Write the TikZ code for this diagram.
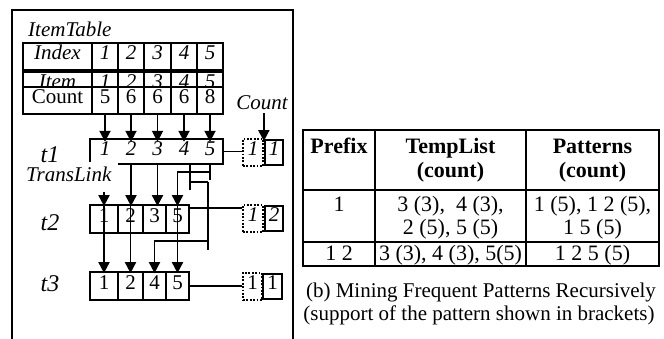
\documentclass[tikz,border=0pt]{standalone}
\usepackage{fontspec}
\setmainfont{Liberation Serif}
\usetikzlibrary{arrows.meta}
\newcommand\fsl{\fontsize{21}{23}\selectfont}
\newcommand\fst{\fontsize{24}{26}\selectfont}
\newcommand\fsr{\fontsize{22}{24}\selectfont}
\newcommand\fsc{\fontsize{21}{23}\selectfont}
\begin{document}
\begin{tikzpicture}[x=1pt,y=-1pt,
  cell/.style={draw, line width=1.7pt, inner sep=0pt, minimum height=27pt, text height=0.66em, text depth=0pt, font=\fsl},
  icell/.style={cell, font=\fsl\itshape},
  dotbox/.style={cell, dash pattern=on 1.8pt off 1.6pt},
  lbl/.style={inner sep=0pt, font=\fsl\itshape},
  arr/.style={line width=1.8pt, -{Triangle[width=11pt,length=11pt]}, shorten >=-2pt},
  ln/.style={line width=1.8pt},
  tbl/.style={inner sep=0pt, anchor=base, font=\fsr},
  tblh/.style={tbl, font=\fsr\bfseries},
  capt/.style={inner sep=0pt, anchor=base, font=\fsc}]
\useasboundingbox (0,0) rectangle (664,339);
% outer frame
\draw[line width=2pt] (12,339) -- (12,10) -- (293,10) -- (293,339);
\node[lbl, anchor=base west] (itab) at (28,37) {ItemTable};
% Index row
\node[icell, minimum width=69pt] (idx0) at (57.5,56.5) {Index};
\foreach \i/\x/\w in {1/105/26, 2/131/26, 3/157.5/27, 4/184/26, 5/210/26}
  \node[icell, minimum width=\w pt] (idx\i) at (\x,56.5) {\i};
% Item row (partly hidden)
\node[icell, minimum width=69pt] (itm0) at (57.5,85.5) {Item};
\foreach \i/\x/\w in {1/105/26, 2/131/26, 3/157.5/27, 4/184/26, 5/210/26}
  \node[icell, minimum width=\w pt] (itm\i) at (\x,85.5) {\i};
% Count row
\node[cell, fill=white, minimum width=69pt] (cnt0) at (57.5,100.5) {Count};
\foreach \i/\x/\w/\t in {1/105/26/5, 2/131/26/6, 3/157.5/27/6, 4/184/26/6, 5/210/26/8}
  \node[cell, fill=white, minimum width=\w pt] (cnt\i) at (\x,100.5) {\t};
\node[lbl, anchor=base] (cntl) at (262,110) {Count};
% t1
\node[lbl, font=\fst\itshape, anchor=base] (lt1) at (50,163) {t1};
\node[inner sep=0pt, minimum width=133pt, minimum height=25pt] (t1box) at (156.5,151.5) {};
\draw[ln] ([xshift=28pt]t1box.south west) -- (t1box.south east) -- (t1box.north east) -- (t1box.north west) -- ([yshift=2pt]t1box.south west);
\foreach \i/\x in {1/105, 2/131, 3/157.5, 4/184, 5/210}
  \node[lbl, text height=0.66em, text depth=0pt] (t1n\i) at (\x,152) {\i};
\node[dotbox, font=\fsl\itshape, minimum width=20pt] (d1) at (253,152.5) {1};
\node[icell, minimum width=18pt, minimum height=25pt] (s1) at (274,152.5) {1};
\node[lbl, anchor=base west] (tl) at (26,182) {TransLink};
% t2
\node[lbl, font=\fst\itshape, anchor=base] (lt2) at (50,231) {t2};
\foreach \i/\x/\w/\t in {a/104/28/1, b/130.5/25/2, c/154.5/23/3, d/177.5/23/5}
  \node[cell, minimum width=\w pt, minimum height=28pt] (t2\i) at (\x,219) {\t};
\node[dotbox, font=\fsl\itshape, minimum width=20pt] (d2) at (253,218.5) {1};
\node[icell, minimum width=18pt, minimum height=25pt] (s2) at (274,218.5) {2};
% t3
\node[lbl, font=\fst\itshape, anchor=base] (lt3) at (50,291) {t3};
\foreach \i/\x/\w/\t in {a/104/28/1, b/130.5/25/2, c/154.5/23/4, d/177.5/23/5}
  \node[cell, minimum width=\w pt, minimum height=28pt] (t3\i) at (\x,286) {\t};
\node[dotbox, minimum width=19pt] (d3) at (252.5,286.5) {1};
\node[cell, minimum width=19pt, minimum height=25pt] (s3) at (272.5,286.5) {1};
% connectors: item table -> t1
\foreach \i in {1,...,5}
  \draw[arr, shorten >=-3pt] (cnt\i.south) -- (cnt\i.south |- t1box.north);
\coordinate (ca) at (d1.east |- cntl.south);
\draw[arr, shorten >=-3pt] ([yshift=-3pt]ca) -- (d1.north east);
\draw[ln] (t1box.east) -- (t1box.east -| d1.west);
% t1 -> t2
\coordinate (tlk) at (104,192);
\draw[arr] (tlk) -- (t2a.north);
\coordinate (b2) at (t1n2 |- t1box.south);
\coordinate (b3) at (t1n3 |- t1box.south);
\coordinate (b5) at (t1n5 |- t1box.south);
\coordinate (b6) at (t2d.east |- t1box.south);
\draw[arr] (b2) -- (b2 |- t2b.north);
\draw[arr] (b3) -- (b3 |- t2c.north);
\draw[ln] (b5) -- ++(0,16);
\draw[arr] ([yshift=-8pt]b5) -| (t2d.north);
\draw[ln] (b6) -- ++(0,26);
\draw[ln] ([yshift=-18pt]b6) -- ++(18,0) coordinate (b7);
\draw[ln] (b7) -- ++(0,68);
\draw[arr] ([yshift=-59pt]b7) -| (t3c.north);
\coordinate (t2r) at ([yshift=-4pt]t2d.north east);
\draw[ln] (t2r) -- (t2r -| d2.west);
% t2 -> t3
\draw[arr] (t2a.north) -- (t3a.north);
\draw[arr] (t2b.north) -- (t3b.north);
\draw[arr] (t2d.north) -- (t3d.north);
\draw[ln] (t3d.east) -- (t3d.east -| d3.west);
% right table
\draw[line width=2pt] (303,130) rectangle (659,266);
\draw[line width=1.5pt] (375,130) -- (375,266) (526,130) -- (526,266)
  (303,190) -- (659,190) (303,242) -- (659,242);
\node[tblh] (h1) at (339,154) {Prefix};
\node[tblh] (h2a) at (450.5,154) {TempList};
\node[tblh] (h2b) at (450.5,178) {(count)};
\node[tblh] (h3a) at (592.5,154) {Patterns};
\node[tblh] (h3b) at (592.5,178) {(count)};
\node[tbl] (r1a) at (339,212) {1};
\node[tbl] (r1b1) at (450.5,212) {3 (3),\ \ 4 (3),};
\node[tbl] (r1b2) at (450.5,235) {2 (5), 5 (5)};
\node[tbl] (r1c1) at (592.5,212) {1 (5), 1 2 (5),};
\node[tbl] (r1c2) at (592.5,235) {1 5 (5)};
\node[tbl] (r2a) at (339,260) {1 2};
\node[tbl] (r2b) at (450.5,260) {3 (3), 4 (3), 5(5)};
\node[tbl] (r2c) at (592.5,260) {1 2 5 (5)};
\node[capt] (cap1) at (481,297) {(b) Mining Frequent Patterns Recursively};
\node[capt] (cap2) at (479,320) {(support of the pattern shown in brackets)};
\end{tikzpicture}
\end{document}
